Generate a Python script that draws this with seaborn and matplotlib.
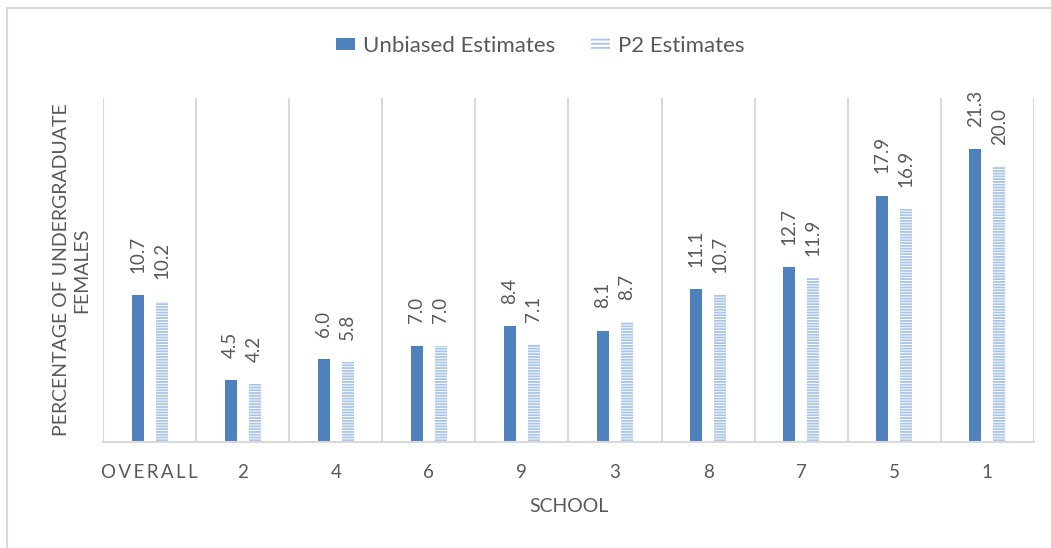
import matplotlib
matplotlib.use('Agg')
import matplotlib.pyplot as plt
from matplotlib.patches import Patch
from matplotlib.lines import Line2D
import seaborn as sns
import numpy as np
import pandas as pd


schools = ['OVERALL', '2', '4', '6', '9', '3', '8', '7', '5', '1']
unbiased = [10.7, 4.5, 6.0, 7.0, 8.4, 8.1, 11.1, 12.7, 17.9, 21.3]
p2 = [10.2, 4.2, 5.8, 7.0, 7.1, 8.7, 10.7, 11.9, 16.9, 20.0]
series = ['Unbiased Estimates', 'P2 Estimates']

blue = '#4F81BD'
hatch_blue = '#A9C4E8'
grey_text = '#595959'
grid_col = '#D9D9D9'

df = pd.DataFrame({
    'school': schools * 2,
    'value': unbiased + p2,
    'series': [series[0]] * len(schools) + [series[1]] * len(schools),
})

sns.set_style('white')
plt.rcParams['font.family'] = ['Lato', 'DejaVu Sans']
plt.rcParams['hatch.linewidth'] = 1.3

fig = plt.figure(figsize=(10.51, 5.48), dpi=100)
ax = fig.add_axes([0.098, 0.1934, 0.8858, 0.6278])

sns.barplot(data=df, x='school', y='value', hue='series', order=schools,
            hue_order=series, palette=[blue, 'white'], saturation=1,
            width=0.516, gap=0.5, legend=False, ax=ax)

# P2 bars are drawn as light blue horizontal stripes
for bar in ax.containers[1]:
    bar.set_facecolor('white')
    bar.set_edgecolor(hatch_blue)
    bar.set_hatch('------')
    bar.set_linewidth(0)
for bar in ax.containers[0]:
    bar.set_linewidth(0)

# value labels, rotated like the original
for cont in ax.containers:
    for bar in cont:
        h = bar.get_height()
        ax.annotate(f'{h:.1f}', (bar.get_x() + bar.get_width() / 2, h),
                    xytext=(0, 16), textcoords='offset points', rotation=90,
                    ha='center', va='bottom', fontsize=13.5, color=grey_text)

ax.set_ylim(0, 25)
ax.set_xlim(-0.5, len(schools) - 0.5)
ax.set_yticks([])
ax.set_xticks(np.arange(-0.5, len(schools), 1), minor=True)
ax.grid(True, which='minor', axis='x', color=grid_col, linewidth=1.5)
ax.tick_params(axis='x', which='both', length=0, pad=16, labelsize=13.5,
               labelcolor=grey_text)
labels = ['\u2009'.join(s) for s in schools]
ax.set_xticklabels(labels)
for s in ['top', 'left', 'right']:
    ax.spines[s].set_visible(False)
ax.spines['bottom'].set_color(grid_col)
ax.spines['bottom'].set_linewidth(1.5)

ax.set_xlabel('SCHOOL', fontsize=14, color=grey_text, labelpad=12)
ax.set_ylabel('PERCENTAGE OF UNDERGRADUATE\nFEMALES', fontsize=14,
              color=grey_text, labelpad=9, linespacing=1.25)

handles = [Patch(facecolor=blue, edgecolor='none', label=series[0]),
           Patch(facecolor='white', edgecolor=hatch_blue, hatch='----',
                 linewidth=0, label=series[1])]
fig.legend(handles=handles, loc='center', bbox_to_anchor=(0.514, 0.916),
           ncol=2, frameon=False, fontsize=16, labelcolor=grey_text,
           handlelength=0.85, handleheight=0.45, handletextpad=0.35,
           columnspacing=1.6)

# outer chart border (only top and left are inside the crop)
fig.add_artist(Line2D([7 / 1051, 7 / 1051], [0, 1 - 8 / 548],
                      transform=fig.transFigure, color=grid_col, lw=1.5))
fig.add_artist(Line2D([7 / 1051, 1], [1 - 8 / 548, 1 - 8 / 548],
                      transform=fig.transFigure, color=grid_col, lw=1.5))

fig.savefig('out.png', dpi=100)
